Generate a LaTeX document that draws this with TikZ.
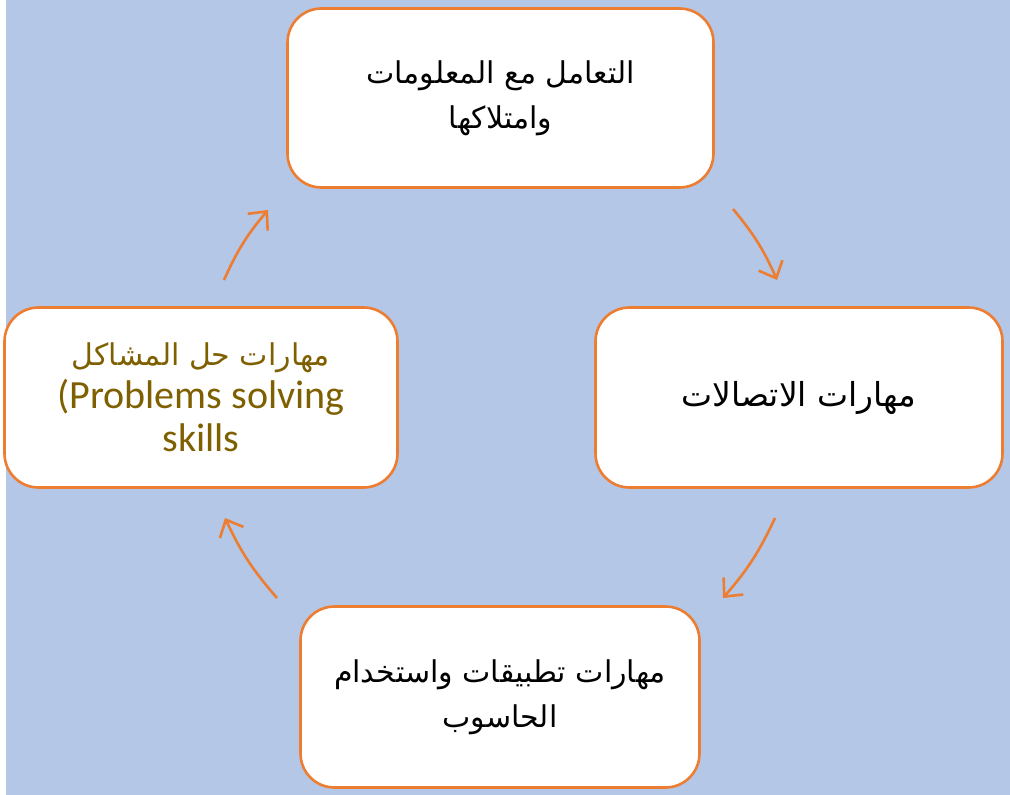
\documentclass[tikz,border=0pt]{standalone}
\usepackage{fontspec}
\usetikzlibrary{arrows.meta}
\TeXXeTstate=1
\newfontfamily\arabicfont[Script=Arabic]{DejaVu Sans}
\newfontfamily\latinfont{Carlito}
\definecolor{pagebg}{HTML}{B4C7E7}
\definecolor{accent}{HTML}{ED7D31}
\definecolor{olivetext}{HTML}{7F6000}
\tikzset{
  stagebox/.style={draw=accent, line width=2.6pt, fill=white,
    rounded corners=34pt, align=center, inner sep=0pt},
  cyclearrow/.style={draw=accent, line width=2.6pt,
    -{Straight Barb[length=14pt, width=26pt, line width=2.6pt]}},
  artext/.style={font=\arabicfont\fontsize{30}{45}\selectfont}
}
\begin{document}
\begin{tikzpicture}[x=1pt, y=-1pt]
  \useasboundingbox (0,0) rectangle (1010,795);
  \fill[white] (0,0) rectangle (1010,795);
  \fill[pagebg] (6,0) rectangle (1010,795);

  % the four stages of the cycle
  \node[stagebox, minimum width=426pt, minimum height=179pt, artext]
    (info) at (500.5,98) {\beginR التعامل مع المعلومات\endR\\ \beginR وامتلاكها\endR};
  \node[stagebox, minimum width=407pt, minimum height=180pt,
    font=\arabicfont\fontsize{33}{45}\selectfont]
    (comm) at (799,397.5) {\beginR مهارات الاتصالات\endR};
  \node[stagebox, minimum width=399pt, minimum height=181pt, artext]
    (comp) at (500,697) {\beginR مهارات تطبيقات واستخدام\endR\\ \beginR الحاسوب\endR};
  \node[stagebox, minimum width=393pt, minimum height=180pt, text=olivetext,
    font=\fontsize{30}{43}\selectfont]
    (prob) at (201,397.5) {{\arabicfont\beginR مهارات حل المشاكل\endR}\\
      {\latinfont\fontsize{40}{43}\selectfont (Problems solving}\\
      {\latinfont\fontsize{40}{43}\selectfont skills}};

  % arrow end points on a circle around the centre of the cycle
  \coordinate (a1s) at (733,209);  \coordinate (a1e) at (777,280);
  \coordinate (a2s) at (775,518);  \coordinate (a2e) at (723,598);
  \coordinate (a3s) at (277,598);  \coordinate (a3e) at (225,518);
  \coordinate (a4s) at (224,280);  \coordinate (a4e) at (268,210);

  \draw[cyclearrow] (a1s) to[bend left=8] (a1e);
  \draw[cyclearrow] (a2s) to[bend left=8] (a2e);
  \draw[cyclearrow] (a3s) to[bend left=8] (a3e);
  \draw[cyclearrow] (a4s) to[bend left=8] (a4e);
\end{tikzpicture}
\end{document}
